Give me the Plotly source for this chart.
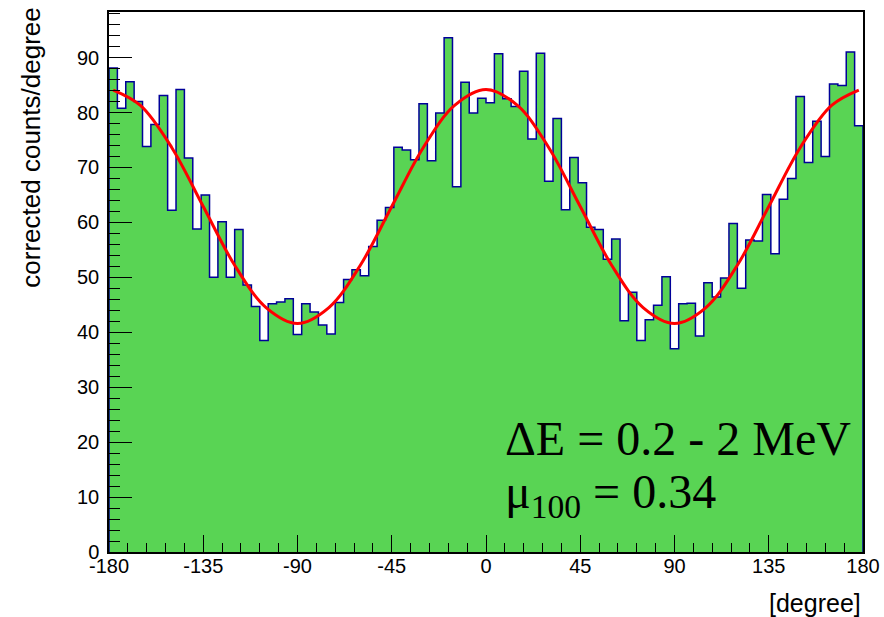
import numpy as np
import plotly.graph_objects as go

# ---- data ----
bin_low, bin_high, n_bins = -180.0, 180.0, 90
counts = [
    88.1, 80.8, 85.6, 82.0, 73.8, 77.8, 83.1, 62.2, 84.2, 71.7,
    58.8, 65.0, 50.0, 60.1, 50.0, 58.7, 48.6, 44.7, 38.5, 45.2,
    45.5, 46.1, 39.6, 45.2, 43.7, 41.3, 39.7, 45.4, 49.6, 51.4,
    50.3, 55.6, 60.4, 62.7, 73.7, 73.2, 71.4, 81.6, 71.2, 79.9,
    93.6, 66.5, 85.5, 79.9, 82.6, 81.8, 90.7, 82.5, 81.1, 87.5,
    75.2, 90.8, 67.5, 78.9, 62.3, 71.8, 67.2, 59.1, 58.7, 53.3,
    57.0, 42.1, 47.3, 38.5, 42.3, 44.9, 50.1, 37.0, 45.2, 45.3,
    39.3, 49.0, 46.4, 49.9, 59.8, 48.0, 56.8, 56.6, 65.1, 54.3,
    64.2, 68.0, 82.9, 70.9, 78.4, 72.0, 85.2, 84.9, 91.0, 77.6,
]
fit_angles = [-178, -165, -150, -135, -120, -105, -90, -75, -60, -45, -30, -15, 0,
              15, 30, 45, 60, 75, 90, 105, 120, 135, 150, 165, 178]
fit_values = [84.1, 81.3, 73.6, 62.9, 52.2, 44.5, 41.6, 44.5, 52.2, 62.9, 73.6, 81.3, 84.2,
              81.3, 73.6, 62.9, 52.2, 44.5, 41.6, 44.5, 52.2, 62.9, 73.6, 81.3, 84.1]
x_ticks = [-180, -135, -90, -45, 0, 45, 90, 135, 180]
y_ticks = [0, 10, 20, 30, 40, 50, 60, 70, 80, 90]
label_line1 = "ΔE = 0.2 - 2 MeV"
label_line2 = "μ<sub>100</sub> = 0.34"

# ---- build step outline ----
edges = np.linspace(bin_low, bin_high, n_bins + 1)
xs = [edges[0]] + list(edges) + [edges[-1]]
ys = [0] + list(counts) + [counts[-1], 0]

fig = go.Figure()
fig.add_trace(go.Scatter(
    x=xs, y=ys, mode="lines", line=dict(shape="hv", color="#000099", width=1.5),
    fill="tozeroy", fillcolor="#59d454", hoverinfo="skip", showlegend=False))
fig.add_trace(go.Scatter(
    x=fit_angles, y=fit_values, mode="lines",
    line=dict(shape="spline", color="#ff0000", width=3), showlegend=False))

tick_font = dict(family="Liberation Sans, Arial, sans-serif", size=20, color="black")
fig.update_xaxes(
    range=[bin_low, bin_high], tickvals=x_ticks, ticktext=[str(v) for v in x_ticks],
    ticks="inside", ticklen=17, tickwidth=1.3, tickcolor="black",
    minor=dict(dtick=9, tick0=0, ticks="inside", ticklen=9, tickwidth=1.3, tickcolor="black", showgrid=False),
    showline=True, linecolor="black", linewidth=1.5, mirror=True, automargin=False,
    showgrid=False, zeroline=False, tickfont=tick_font, ticklabelstandoff=-5)
fig.update_yaxes(
    range=[0, 98.3], tickvals=y_ticks, ticktext=[str(v) for v in y_ticks],
    ticks="inside", ticklen=23, tickwidth=1.3, tickcolor="black",
    minor=dict(dtick=2, tick0=0, ticks="inside", ticklen=11.5, tickwidth=1.3, tickcolor="black", showgrid=False),
    showline=True, linecolor="black", linewidth=1.5, mirror=True, automargin=False,
    showgrid=False, zeroline=False, tickfont=tick_font, ticklabelstandoff=4)

title_font = dict(family="Liberation Sans, Arial, sans-serif", size=26, color="black")
serif_font = dict(family="Liberation Serif, Times New Roman, serif", size=48, color="black")
fig.update_layout(
    width=884, height=617,
    margin=dict(l=109, r=21, t=12, b=65, autoexpand=False),
    plot_bgcolor="white", paper_bgcolor="white",
    annotations=[
        dict(text="corrected counts/degree", xref="paper", yref="paper",
             x=-0.104, y=0.748, xanchor="center", yanchor="middle",
             textangle=-90, showarrow=False, font=title_font),
        dict(text="[degree]", xref="paper", yref="paper",
             x=1.0, y=-0.095, xanchor="right", yanchor="middle",
             showarrow=False, font=dict(family="Liberation Sans, Arial, sans-serif", size=25, color="black")),
        dict(text=label_line1, xref="paper", yref="paper",
             x=0.522, y=0.211, xanchor="left", yanchor="middle",
             showarrow=False, font=serif_font),
        dict(text=label_line2, xref="paper", yref="paper",
             x=0.522, y=0.106, xanchor="left", yanchor="middle",
             showarrow=False, font=serif_font),
    ],
)

fig.write_html("out.html")
